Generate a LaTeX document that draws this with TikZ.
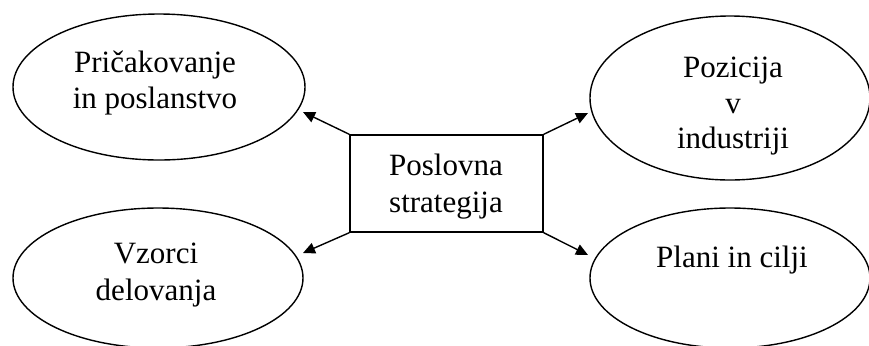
\documentclass[tikz,border=0pt]{standalone}
\usepackage{fontspec}
\setmainfont{Liberation Serif}
\usetikzlibrary{arrows.meta,shapes.geometric}
\begin{document}
\begin{tikzpicture}[x=0.5pt,y=-0.5pt,
  oval/.style={draw,line width=0.7pt,ellipse,inner sep=0pt},
  box/.style={draw,line width=0.7pt,rectangle,inner sep=0pt,minimum width=96.5pt,minimum height=48.5pt},
  txt/.style={anchor=base,inner sep=0pt,font=\fontsize{15.5}{18}\selectfont},
  conn/.style={line width=0.7pt,-{Triangle[length=6pt,width=5.5pt]}}]
\useasboundingbox (0,0) rectangle (869,345);
% ellipses
\node[oval,minimum width=146pt,minimum height=73pt] (tl) at (159,87) {};
\node[oval,minimum width=140pt,minimum height=82pt] (tr) at (730,98) {};
\node[oval,minimum width=145pt,minimum height=70pt] (bl) at (158,278) {};
\node[oval,minimum width=140pt,minimum height=70pt] (br) at (730,278) {};
% center box
\node[box] (ps) at (446.5,183.5) {};
% texts
\node[txt] (tla) at (155,72) {Pričakovanje};
\node[txt] (tlb) at (155,108) {in poslanstvo};
\node[txt] (tra) at (733,77) {Pozicija};
\node[txt] (trb) at (733,113) {v};
\node[txt] (trc) at (733,148) {industriji};
\node[txt] (bla) at (156,263) {Vzorci};
\node[txt] (blb) at (156,300) {delovanja};
\node[txt] (bra) at (732,267) {Plani in cilji};
\node[txt] (psa) at (446,175) {Poslovna};
\node[txt] (psb) at (446,212) {strategija};
% connector ends
\coordinate (tlT) at (303,112);
\coordinate (trT) at (588,113);
\coordinate (blT) at (303,253);
\coordinate (brT) at (588,255);
\draw[conn] (ps.north west) -- (tlT);
\draw[conn] (ps.north east) -- (trT);
\draw[conn] (ps.south west) -- (blT);
\draw[conn] (ps.south east) -- (brT);
\end{tikzpicture}
\end{document}
